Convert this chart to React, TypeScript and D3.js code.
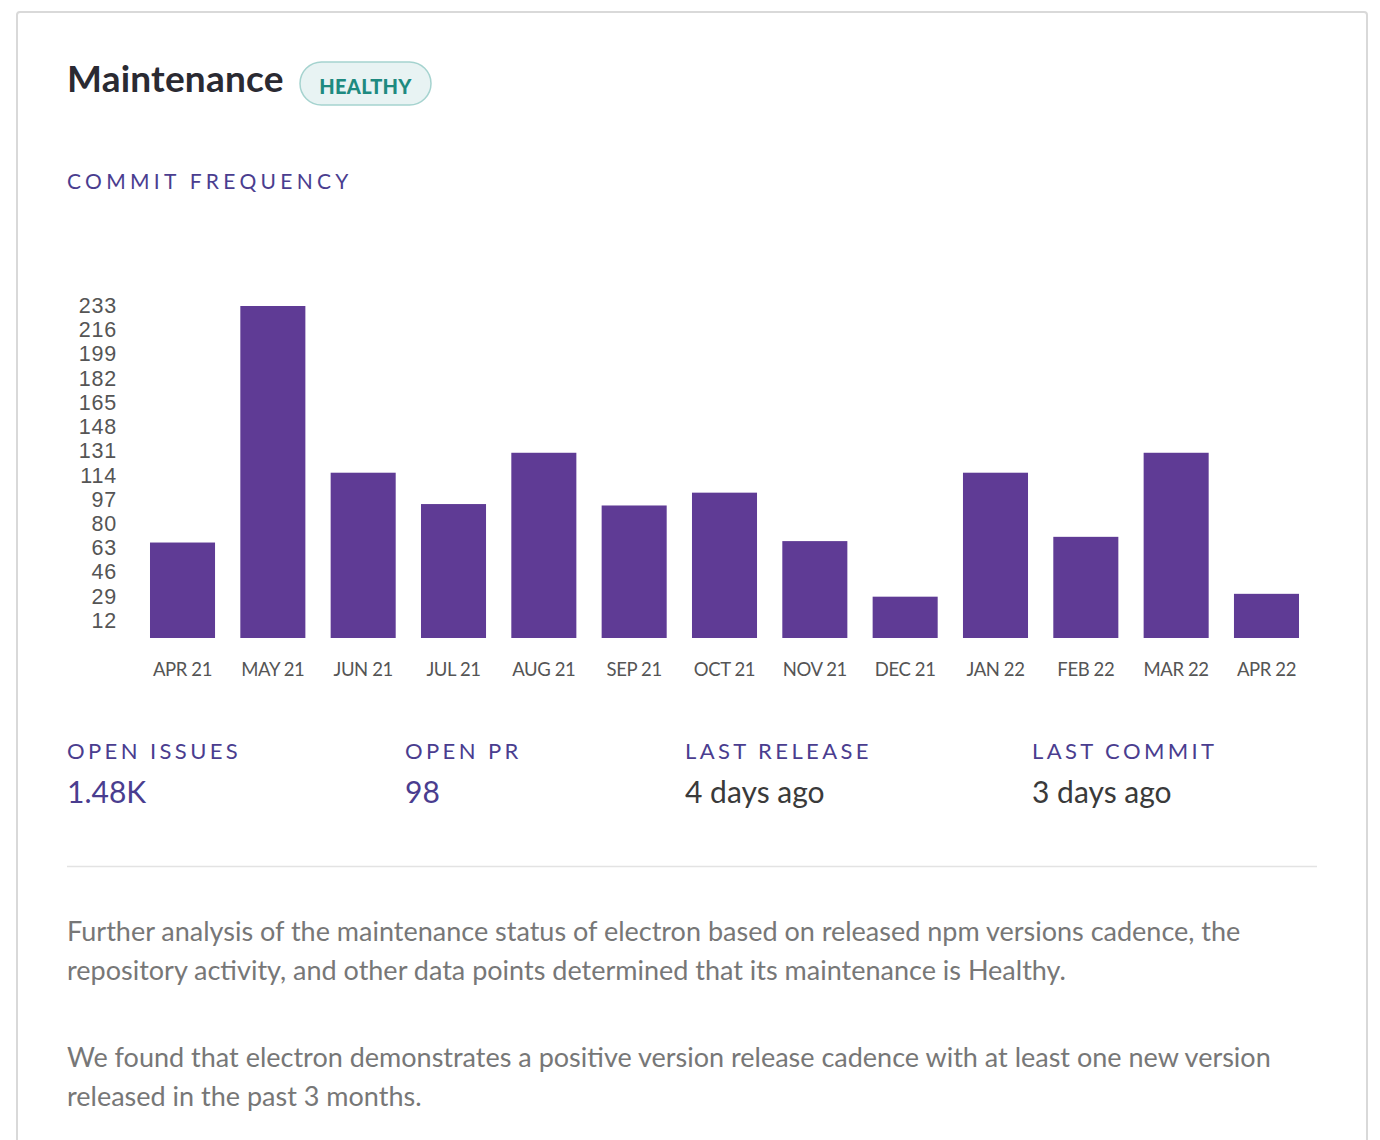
import React, { useEffect } from "react";
import * as d3 from "d3";

const months = ["APR 21","MAY 21","JUN 21","JUL 21","AUG 21","SEP 21","OCT 21","NOV 21","DEC 21","JAN 22","FEB 22","MAR 22","APR 22"];
const commits = [67, 233, 116, 94, 130, 93, 102, 68, 29, 116, 71, 130, 31];
const yTicks = [12, 29, 46, 63, 80, 97, 114, 131, 148, 165, 182, 199, 216, 233];
const statLabels = ["OPEN ISSUES", "OPEN PR", "LAST RELEASE", "LAST COMMIT"];
const statValues = ["1.48K", "98", "4 days ago", "3 days ago"];
const paragraphs = [
  ["Further analysis of the maintenance status of electron based on released npm versions cadence, the",
   "repository activity, and other data points determined that its maintenance is Healthy."],
  ["We found that electron demonstrates a positive version release cadence with at least one new version",
   "released in the past 3 months."],
];

const W = 1380, H = 1140;
const HUM = "Lato, 'Open Sans', sans-serif";

export default function App() {
  useEffect(() => { document.body.style.margin = "0"; }, []);
  const x = d3.scaleBand<string>().domain(months).range([137.35, 1311.65]).paddingInner(0.28).paddingOuter(0.14);
  const y = d3.scaleLinear().domain([0, 233]).range([638, 306]);
  const statX = [67, 405, 685, 1032];
  const statColor = ["#4a3d8f", "#4a3d8f", "#3a3a3a", "#3a3a3a"];
  const paraY = [[932, 971], [1058, 1097]];
  return (
    <svg width={W} height={H} style={{ display: "block" }}>
      <rect x={0} y={0} width={W} height={H} fill="#fff" />
      <rect x={17} y={12} width={1350} height={1160} fill="#fff" stroke="#d9d9d9" strokeWidth={2} rx={3} />
      <text x={67} y={92} fontFamily={HUM} fontWeight={700} fontSize={37} fill="#2a2a32" letterSpacing={0.2}>Maintenance</text>
      <rect x={300} y={62} width={131} height={43} rx={21.5} fill="#e8f3f3" stroke="#a5d3cf" strokeWidth={1.5} />
      <text x={365.5} y={86} textAnchor="middle" dominantBaseline="central" fontFamily={HUM} fontWeight={900} fontSize={20} fill="#1e8a80" letterSpacing={0.3}>HEALTHY</text>
      <text x={67} y={189} fontFamily={HUM} fontSize={21} fill="#4a3d8f" letterSpacing={4.3}>COMMIT FREQUENCY</text>

      {yTicks.map(t => (
        <text key={t} x={117} y={y(t)} textAnchor="end" dominantBaseline="central" fontFamily="'Liberation Sans', Arial, sans-serif" fontSize={21.5} fill="#555" letterSpacing={0.8}>{t}</text>
      ))}
      {months.map((m, i) => (
        <rect key={m} x={x(m)} y={y(commits[i])} width={x.bandwidth()} height={y(0) - y(commits[i])} fill="#5f3b95" />
      ))}
      {months.map(m => (
        <text key={m} x={(x(m) as number) + x.bandwidth() / 2} y={669} textAnchor="middle" dominantBaseline="central" fontFamily={HUM} fontSize={18.5} fill="#555" letterSpacing={-0.4}>{m}</text>
      ))}

      {statLabels.map((s, i) => (
        <text key={s} x={statX[i]} y={759} fontFamily={HUM} fontSize={22} fill="#4a3d8f" letterSpacing={3.4}>{s}</text>
      ))}
      {statValues.map((s, i) => (
        <text key={s} x={statX[i]} y={803} fontFamily={HUM} fontSize={30} fill={statColor[i]}>{s}</text>
      ))}
      <line x1={67} x2={1317} y1={866.5} y2={866.5} stroke="#e3e3e3" strokeWidth={1.5} />
      {paragraphs.map((p, pi) => p.map((line, li) => (
        <text key={pi + "-" + li} x={67} y={paraY[pi][li] + 9} fontFamily={HUM} fontSize={27} fill="#777">{line}</text>
      )))}
    </svg>
  );
}
